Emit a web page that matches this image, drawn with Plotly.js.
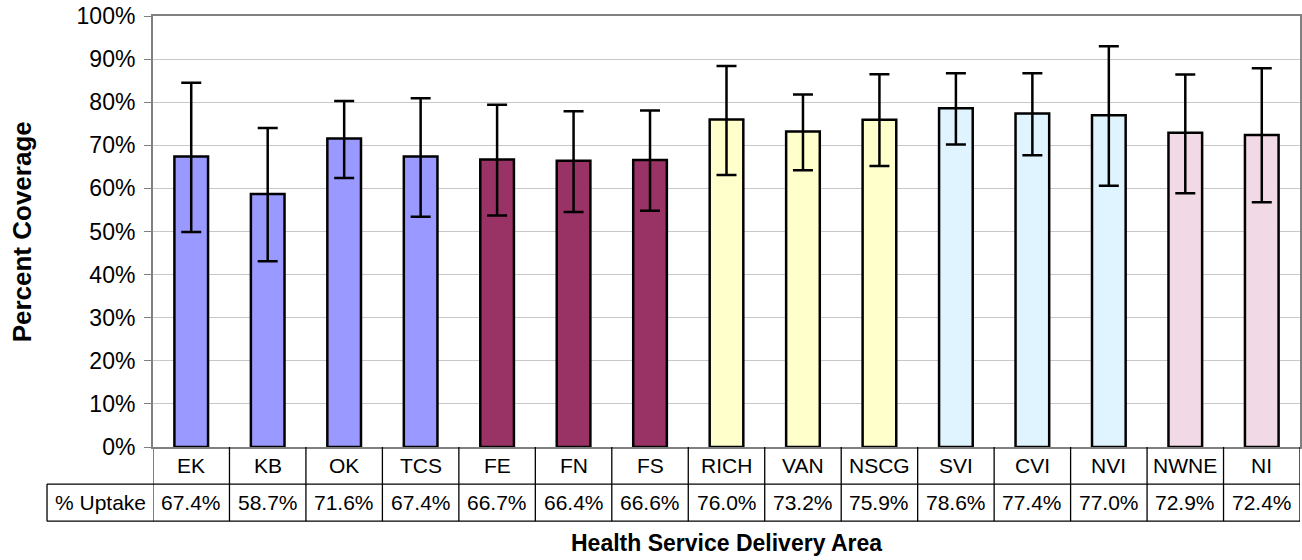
<!DOCTYPE html>
<html>
<head>
<meta charset="utf-8">
<script src="https://cdn.plot.ly/plotly-3.0.1.min.js"></script>
<style>html,body{margin:0;padding:0;background:#fff;}#chart{width:1302px;height:560px;}</style>
</head>
<body>
<div id="chart"></div>
<script>
var categories = ["EK","KB","OK","TCS","FE","FN","FS","RICH","VAN","NSCG","SVI","CVI","NVI","NWNE","NI"];
var uptake = [67.4,58.7,71.6,67.4,66.7,66.4,66.6,76.0,73.2,75.9,78.6,77.4,77.0,72.9,72.4];
var upperCI = [84.5,74.0,80.3,80.9,79.4,77.9,78.1,88.4,81.8,86.5,86.7,86.7,93.0,86.4,87.9];
var lowerCI = [49.9,43.1,62.4,53.4,53.7,54.5,54.8,63.1,64.2,65.2,70.2,67.7,60.6,58.9,56.8];
var barColors = ["#9999FF","#9999FF","#9999FF","#9999FF",
                 "#993366","#993366","#993366",
                 "#FFFFCC","#FFFFCC","#FFFFCC",
                 "#DFF4FE","#DFF4FE","#DFF4FE",
                 "#F2D9E6","#F2D9E6"];
var rowLabel = "% Uptake";
var xTitle = "Health Service Delivery Area";
var yTitle = "Percent Coverage";

var FONT = '"Liberation Sans", Arial, sans-serif';
var xIdx = categories.map(function(_, i){ return i; });

var trace = {
  type: 'bar',
  x: xIdx,
  y: uptake,
  width: 0.44,
  marker: {color: barColors, line: {color: '#000000', width: 2.5}},
  error_y: {
    type: 'data', symmetric: false,
    array: uptake.map(function(v, i){ return upperCI[i] - v; }),
    arrayminus: uptake.map(function(v, i){ return v - lowerCI[i]; }),
    color: '#000000', thickness: 2.5, width: 10
  },
  hoverinfo: 'none'
};

// table geometry (paper coords)
var row1Top = -0.004, rowMid = -0.086, rowBot = -0.172;
var row1C = -0.042, row2C = -0.129;
var tableLeft = -0.0924;

var shapes = [];
for (var k = -1; k < categories.length; k++) {
  shapes.push({type: 'line', xref: 'x', yref: 'paper', x0: k + 0.5, x1: k + 0.5,
    y0: 0, y1: rowBot, line: {color: (k === -1 ? '#808080' : '#000000'), width: (k === -1 ? 2 : 1.3)}});
}
shapes.push({type: 'line', xref: 'paper', yref: 'paper', x0: tableLeft, x1: 1, y0: rowMid, y1: rowMid, line: {color: '#000000', width: 1.3}});
shapes.push({type: 'line', xref: 'paper', yref: 'paper', x0: tableLeft, x1: 1, y0: rowBot, y1: rowBot, line: {color: '#000000', width: 1.3}});
shapes.push({type: 'line', xref: 'paper', yref: 'paper', x0: tableLeft, x1: tableLeft, y0: rowMid, y1: rowBot, line: {color: '#000000', width: 1.3}});

var annotations = [];
categories.forEach(function(c, i){
  annotations.push({xref: 'x', yref: 'paper', x: i, y: row1C, text: c, showarrow: false,
    xanchor: 'center', yanchor: 'middle', font: {family: FONT, size: 21, color: '#000'}});
  annotations.push({xref: 'x', yref: 'paper', x: i, y: row2C, text: uptake[i].toFixed(1) + '%', showarrow: false,
    xanchor: 'center', yanchor: 'middle', font: {family: FONT, size: 21, color: '#000'}});
});
annotations.push({xref: 'paper', yref: 'paper', x: -0.0462, y: row2C, text: rowLabel, showarrow: false,
  xanchor: 'center', yanchor: 'middle', font: {family: FONT, size: 21, color: '#000'}});
annotations.push({xref: 'paper', yref: 'paper', x: 0.5004, y: -0.2227, text: '<b>' + xTitle + '</b>', showarrow: false,
  xanchor: 'center', yanchor: 'middle', font: {family: FONT, size: 23, color: '#000'}});
annotations.push({xref: 'paper', yref: 'paper', x: -0.1142, y: 0.498, text: '<b>' + yTitle + '</b>', showarrow: false,
  textangle: -90, xanchor: 'center', yanchor: 'middle', font: {family: FONT, size: 26, color: '#000'}});

var layout = {
  width: 1302, height: 560,
  margin: {l: 153, r: 2, t: 16, b: 113, pad: 0},
  paper_bgcolor: '#ffffff', plot_bgcolor: '#ffffff',
  showlegend: false,
  font: {family: FONT, color: '#000'},
  xaxis: {
    range: [-0.5, categories.length - 0.5],
    showticklabels: false, ticks: '', showgrid: false, zeroline: false,
    showline: true, mirror: true, linecolor: '#808080', linewidth: 2,
    fixedrange: true
  },
  yaxis: {
    range: [0, 100], dtick: 10, tick0: 0, ticksuffix: '%',
    showgrid: true, gridcolor: '#C8C8C8', gridwidth: 1, zeroline: false,
    showline: true, mirror: true, linecolor: '#808080', linewidth: 2,
    ticks: 'outside', ticklen: 7, tickcolor: '#808080', tickwidth: 1,
    tickfont: {family: FONT, size: 23, color: '#000'},
    ticklabelstandoff: 4,
    fixedrange: true
  },
  shapes: shapes,
  annotations: annotations
};

Plotly.newPlot('chart', [trace], layout, {displayModeBar: false, staticPlot: true});
</script>
</body>
</html>
